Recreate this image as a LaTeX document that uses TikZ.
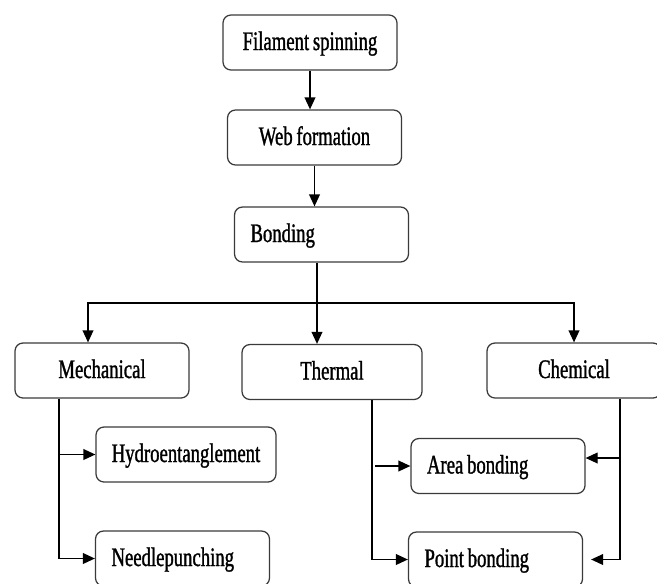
\documentclass[tikz,border=0pt]{standalone}
\usepackage{fontspec}
\setmainfont[FakeStretch=0.7,FakeBold=1.2,WordSpace=0.8]{Liberation Serif}
\usepackage{tikz}
\usetikzlibrary{arrows.meta,calc,positioning}
\definecolor{boxgray}{HTML}{3A3A3A}
\tikzset{
  box/.style={draw=boxgray,line width=0.9pt,rounded corners=0.2cm,
    minimum width=4.35cm,minimum height=1.375cm,align=center,
    font=\fontsize{19}{21}\selectfont,text height=0.45cm,text depth=0.075cm},
  leftbox/.style={box,text width=3.55cm,inner xsep=0.4cm,align=flush left},
  arr/.style={black,line width=0.9pt,-{Triangle[length=0.3cm,width=0.27cm]}},
  link/.style={black,line width=0.9pt}
}
\begin{document}
\begin{tikzpicture}
\useasboundingbox (0,0) rectangle (16.425,-14.575);
% main chain
\node[box] (spin) at (7.75,-1.0625) {Filament spinning};
\node[box] (web) at (7.8625,-3.4375) {Web formation};
\node[leftbox] (bond) at (8.0375,-5.8625) {Bonding};
% bonding types
\node[box] (mech) at (2.55,-9.2625) {Mechanical};
\node[box,minimum width=4.5cm] (therm) at (8.3,-9.3) {Thermal};
\node[box] (chem) at (14.35,-9.2625) {Chemical};
% methods
\node[box,minimum width=4.5cm] (hydro) at (4.65,-11.3625) {Hydroentanglement};
\node[leftbox] (needle) at (4.5625,-13.9625) {Needlepunching};
\node[leftbox] (area) at (12.45,-11.65) {Area bonding};
\node[leftbox] (point) at (12.3875,-13.9875) {Point bonding};

\draw[arr] (spin.south) -- (spin.south |- web.north);
\draw[arr] (web.south) -- (web.south |- bond.north);

\coordinate (split) at (7.925,-7.575);
\draw[link] (bond.south -| split) -- (split);
\draw[arr] (split) -- (split |- therm.north);
\draw[arr] (split) -| ([xshift=-0.35cm]mech.north);
\draw[arr] (split) -| (chem.north);

\coordinate (mline) at ([xshift=-1.075cm]mech.south);
\draw[arr] (mline) |- (needle.west);
\draw[arr] (mline |- hydro.west) -- (hydro.west);

\coordinate (tline) at ([xshift=1cm]therm.south);
\draw[arr] (tline) |- (point.west);
\draw[arr] ([xshift=0.08cm]tline |- area.west) -- (area.west);

\coordinate (cline) at ([xshift=1.15cm]chem.south);
\coordinate (ca) at ([yshift=0.2cm]area.east);
\draw[arr] (cline) |- ([xshift=0.2cm]point.east);
\draw[arr] (cline |- ca) -- (ca);
\end{tikzpicture}
\end{document}
